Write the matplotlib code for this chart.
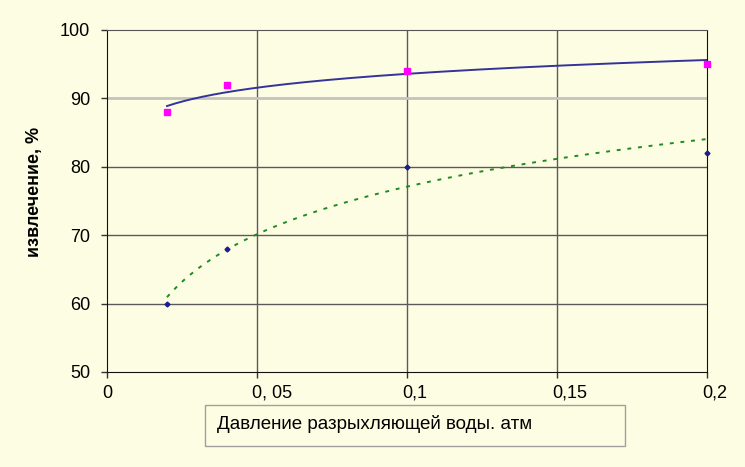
import numpy as np
import matplotlib.pyplot as plt
import matplotlib.transforms as mtransforms
from matplotlib.patches import Rectangle

# давление, атм
pressure = [0.02, 0.04, 0.1, 0.2]
# извлечение, %
series_top = [88, 92, 94, 95]
series_bottom = [60, 68, 80, 82]

x_ticks = [0, 0.05, 0.1, 0.15, 0.2]
x_tick_labels = ["0", "0, 05", "0,1", "0,15", "0,2"]
y_ticks = [50, 60, 70, 80, 90, 100]

bg = "#FDFDE3"
plt.rcParams['font.family'] = ['Liberation Sans', 'DejaVu Sans']

fig = plt.figure(figsize=(7.45, 4.67), dpi=100, facecolor=bg)
ax = fig.add_axes([107 / 745, 1 - 372 / 467, 600 / 745, 342 / 467])
ax.set_facecolor(bg)

ax.set_xlim(0, 0.2)
ax.set_ylim(50, 100)

# сетка
for x in [0.05, 0.1, 0.15]:
    ax.axvline(x, color="#5a5a5a", lw=1, zorder=1)
for y in [60, 70, 80]:
    ax.axhline(y, color="#5a5a5a", lw=1, zorder=1)
ax.axhline(90, color="#c4c4bc", lw=2, zorder=1)

# логарифмические линии тренда
xs = np.linspace(min(pressure), max(pressure), 200)
lx = np.log(pressure)
a1, b1 = np.polyfit(lx, series_top, 1)
a2, b2 = np.polyfit(lx, series_bottom, 1)
ax.plot(xs, a1 * np.log(xs) + b1, color="#33339a", lw=1.4, zorder=3)
ax.plot(xs, a2 * np.log(xs) + b2, color="#1f8a1f", lw=1.4,
        linestyle=(0, (2, 3.5)), zorder=3)

ax.plot(pressure, series_top, linestyle="", marker="s", markersize=4.5,
        color="#FF00FF", zorder=4, clip_on=False)
ax.plot(pressure, series_bottom, linestyle="", marker="D", markersize=2.5,
        color="#1c1c8c", zorder=4, clip_on=False)

ax.set_xticks(x_ticks)
ax.set_xticklabels(x_tick_labels)
ax.set_yticks(y_ticks)
ax.tick_params(direction="out", length=4, width=1, color="#333333",
               labelsize=13)
ax.yaxis.set_tick_params(pad=8)
ax.xaxis.set_tick_params(pad=5)
for s in ["left", "bottom", "right"]:
    ax.spines[s].set_color("#111111")
ax.spines["top"].set_color("#555555")
shift = mtransforms.ScaledTranslation(-5 / 100, 0, fig.dpi_scale_trans)
for lbl in ax.get_xticklabels():
    lbl.set_ha("left")
    lbl.set_transform(lbl.get_transform() + shift)

fig.text(35 / 745, 1 - 192 / 467, "извлечение, %", fontsize=13,
         fontweight="bold", rotation=90, ha="center", va="center")

# подпись оси X в рамке
fig.patches.append(Rectangle((205 / 745, 1 - 446 / 467), 420 / 745, 41 / 467,
                             transform=fig.transFigure, facecolor=bg,
                             edgecolor="#a0a0a0", lw=1))
fig.text(217 / 745, 1 - 424 / 467, "Давление разрыхляющей воды. атм",
         fontsize=13.5, va="center", ha="left")

fig.savefig("out.png", dpi=100, facecolor=bg)
